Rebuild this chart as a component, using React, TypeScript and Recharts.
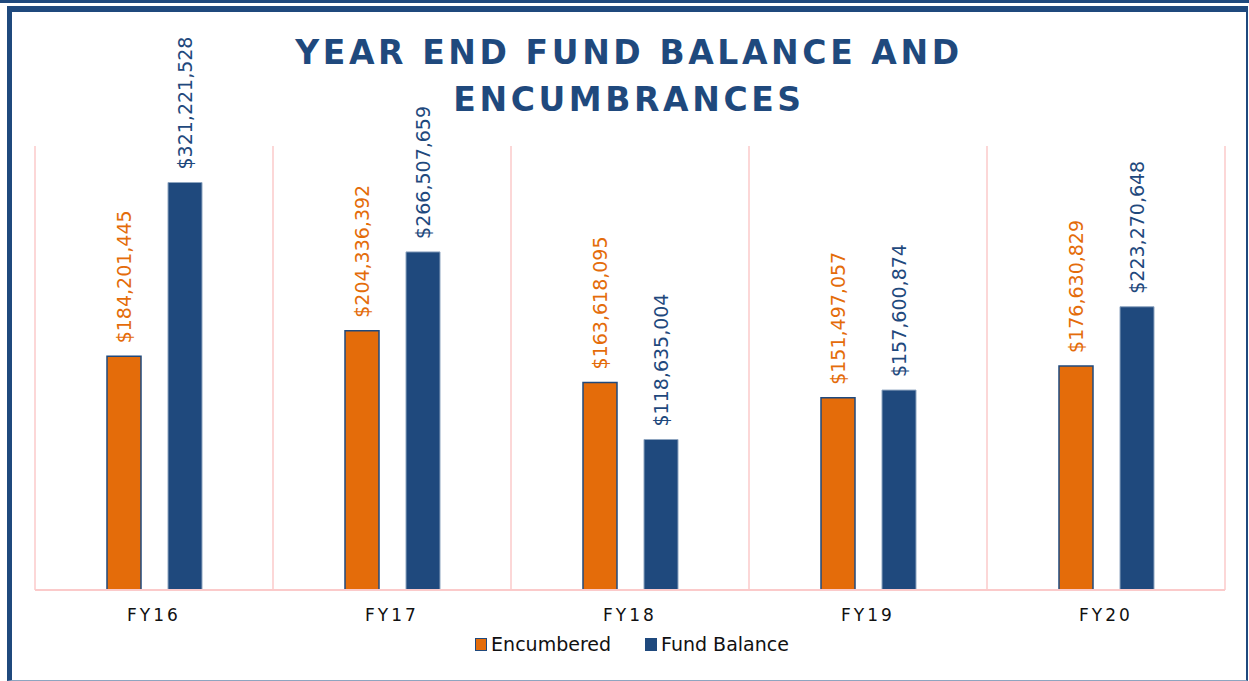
import React from 'react'
import { BarChart, Bar, XAxis, YAxis, CartesianGrid, LabelList } from 'recharts'

const categories = ['FY16', 'FY17', 'FY18', 'FY19', 'FY20']
const encumbered = [184201445, 204336392, 163618095, 151497057, 176630829]
const fundBalance = [321221528, 266507659, 118635004, 157600874, 223270648]

const ORANGE = '#e46c0a'
const BLUE = '#1f497d'
const PINK = '#fbcaca'

const chartData = categories.map((name, i) => ({
  name,
  encumbered: encumbered[i],
  fundBalance: fundBalance[i]
}))

const formatMoney = (v: number): string => '$' + v.toLocaleString('en-US')

// Etiquette verticale au-dessus de la barre
const makeLabel = (color: string) => (props: any): React.JSX.Element => {
  const { x, y, width, value } = props
  const cx = x + width / 2
  const cy = y - 13
  return (
    <text
      x={cx}
      y={cy}
      transform={`rotate(-90 ${cx} ${cy})`}
      textAnchor="start"
      dominantBaseline="central"
      fill={color}
      fontSize={19}
      fontFamily="DejaVu Sans"
    >
      {formatMoney(value)}
    </text>
  )
}

const legendItems = [
  { label: 'Encumbered', fill: ORANGE, stroke: BLUE },
  { label: 'Fund Balance', fill: BLUE, stroke: BLUE }
]

export default function App(): React.JSX.Element {
  return (
    <div
      style={{
        position: 'fixed',
        left: 0,
        top: 0,
        width: 1249,
        height: 681,
        background: '#fff',
        overflow: 'hidden',
        fontFamily: 'DejaVu Sans'
      }}
    >
      {/* bande du haut */}
      <div style={{ position: 'absolute', left: 0, top: 0, width: 1249, height: 3, background: BLUE }} />
      {/* cadre */}
      <div
        style={{
          position: 'absolute',
          left: 7,
          top: 6,
          width: 1249 - 7 - 1 - 7,
          height: 681 - 6 - 6 - 1,
          borderLeft: `5px solid ${BLUE}`,
          borderTop: `6px solid ${BLUE}`,
          borderRight: `2px solid ${BLUE}`,
          borderBottom: '1px solid #8ea5c0'
        }}
      />
      <div
        style={{
          position: 'absolute',
          left: 0,
          top: 29,
          width: 1258,
          textAlign: 'center',
          color: BLUE,
          fontWeight: 'bold',
          fontSize: 33,
          letterSpacing: 3.6,
          lineHeight: '47px'
        }}
      >
        YEAR END FUND BALANCE AND
        <br />
        ENCUMBRANCES
      </div>

      <div style={{ position: 'absolute', left: 0, top: 0 }}>
        <BarChart
          width={1249}
          height={681}
          data={chartData}
          margin={{ top: 146, right: 24, left: 35, bottom: 61 }}
          barSize={34}
          barGap={27}
        >
          <CartesianGrid
            horizontal={false}
            stroke={PINK}
            strokeWidth={1.5}
            verticalCoordinatesGenerator={({ offset }: any) =>
              Array.from({ length: categories.length + 1 }, (_, i) => offset.left + (i * offset.width) / categories.length)
            }
          />
          <XAxis
            dataKey="name"
            axisLine={{ stroke: PINK, strokeWidth: 2 }}
            tickLine={false}
            tick={{ fill: '#111', fontSize: 17, letterSpacing: 3 }}
            tickMargin={13}
          />
          <YAxis hide domain={[0, 350000000]} />
          <Bar dataKey="encumbered" fill={ORANGE} stroke={BLUE} strokeWidth={1.5} isAnimationActive={false}>
            <LabelList dataKey="encumbered" content={makeLabel(ORANGE)} />
          </Bar>
          <Bar dataKey="fundBalance" fill={BLUE} stroke="#8ea5c0" strokeWidth={1} isAnimationActive={false}>
            <LabelList dataKey="fundBalance" content={makeLabel(BLUE)} />
          </Bar>
        </BarChart>
      </div>

      <div
        style={{
          position: 'absolute',
          left: 0,
          top: 633,
          width: 1264,
          display: 'flex',
          justifyContent: 'center',
          gap: 34,
          fontSize: 19,
          color: '#111'
        }}
      >
        {legendItems.map((it) => (
          <div key={it.label} style={{ display: 'flex', alignItems: 'center', gap: 4 }}>
            <span
              style={{
                display: 'inline-block',
                width: 10,
                height: 11,
                background: it.fill,
                border: `1.5px solid ${it.stroke}`
              }}
            />
            <span>{it.label}</span>
          </div>
        ))}
      </div>
    </div>
  )
}
